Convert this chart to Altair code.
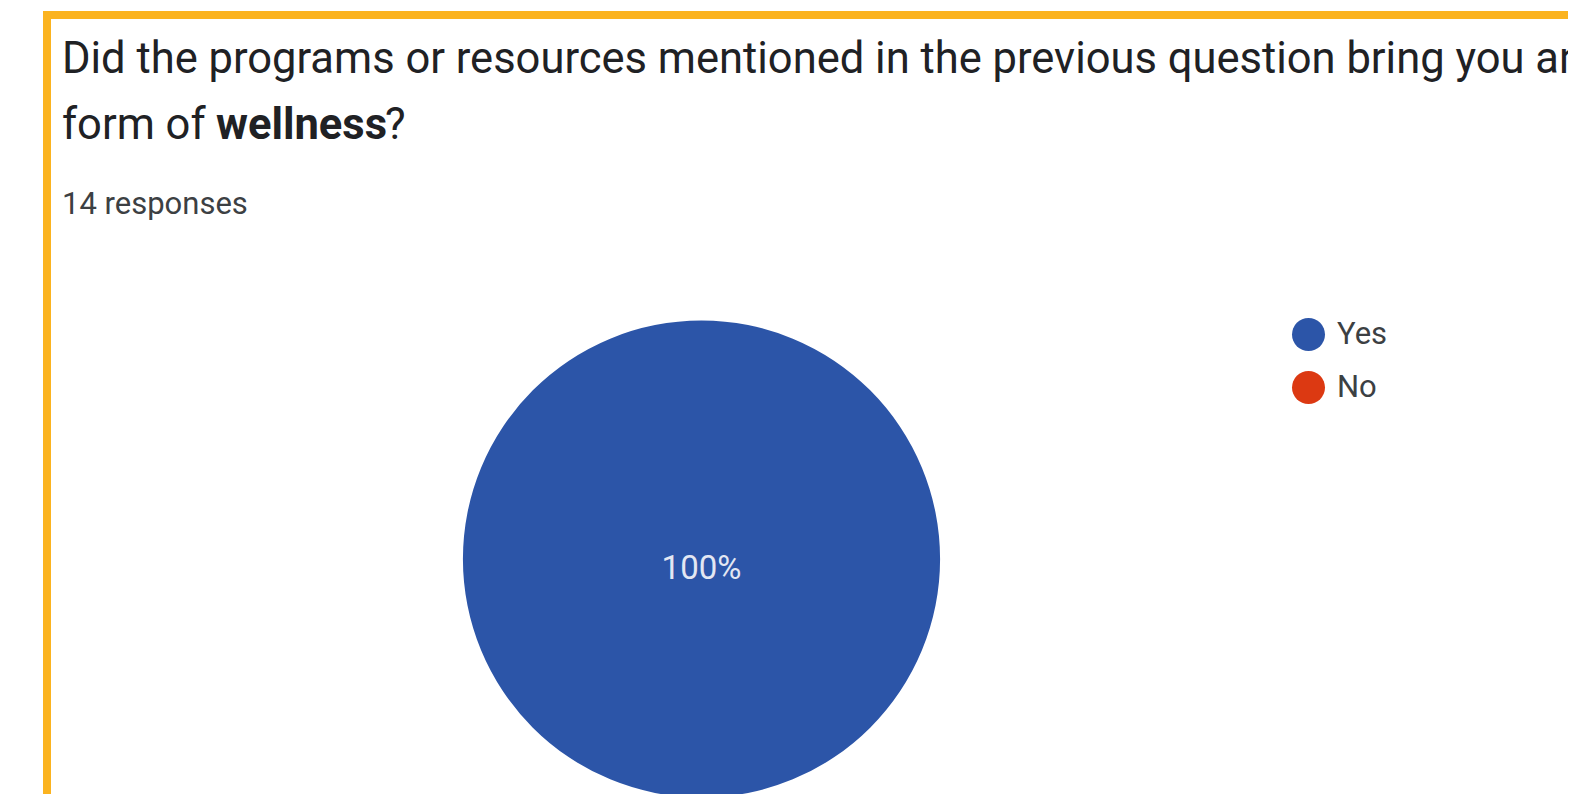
import altair as alt
import pandas as pd

# ---- data ----
answers = ["Yes", "No"]
counts = [14, 0]
colors = ["#2C55A8", "#DC3912"]

title_line1 = "Did the programs or resources mentioned in the previous question bring you any"
title_line2_a = "form of"
title_line2_b = "wellness"
title_line2_c = "?"
subtitle = "14 responses"

FONT = "Roboto"
W, H = 1560, 786

pie_df = pd.DataFrame({"answer": answers, "count": counts})

def one(text):
    return pd.DataFrame({"t": [text]})

border_color = "#FBB31F"

top_border = alt.Chart(one("")).mark_rule(color=border_color, strokeWidth=8).encode(
    x=alt.value(35), x2=alt.value(W), y=alt.value(7)
)
left_border = alt.Chart(one("")).mark_rule(color=border_color, strokeWidth=8).encode(
    x=alt.value(39), y=alt.value(3), y2=alt.value(H)
)

def text_layer(s, x, y, size, weight="normal", color="#202124"):
    return alt.Chart(one(s)).mark_text(
        font=FONT, fontSize=size, fontWeight=weight, color=color,
        align="left", baseline="alphabetic"
    ).encode(text="t:N", x=alt.value(x), y=alt.value(y))

t1 = text_layer(title_line1, 54, 65, 43.5)
t2a = text_layer(title_line2_a, 54, 131, 43.5)
t2b = text_layer(title_line2_b, 208, 131, 43.5, weight="bold")
t2c = text_layer(title_line2_c, 377, 131, 43.5)
t3 = text_layer(subtitle, 54, 206, 31, color="#3c4043")

CX, CY, R = 693.5, 551, 238.5

pie = alt.Chart(pie_df).mark_arc(outerRadius=R, stroke=None).encode(
    theta=alt.Theta("count:Q", stack=True),
    color=alt.Color(
        "answer:N",
        scale=alt.Scale(domain=answers, range=colors),
        sort=answers,
        legend=alt.Legend(
            title=None, orient="none", legendX=1284, legendY=310,
            symbolType="circle", symbolSize=1089, symbolStrokeWidth=0,
            symbolOpacity=1, labelFont=FONT, labelFontSize=31,
            labelColor="#3c4043", labelOffset=12, rowPadding=20, padding=0,
        ),
    ),
    order=alt.Order("answer:N", sort="descending"),
    x=alt.value(CX), y=alt.value(CY),
)

pct = alt.Chart(pie_df).transform_joinaggregate(
    total="sum(count)"
).transform_filter(
    alt.datum.count > 0
).transform_calculate(
    label="format(datum.count / datum.total * 100, '.0f') + '%'"
).mark_text(
    font=FONT, fontSize=33, color="#E3E7F3", align="center", baseline="middle"
).encode(text="label:N", x=alt.value(CX), y=alt.value(CY + 10))

chart = alt.layer(
    pie, pct, top_border, left_border, t1, t2a, t2b, t2c, t3
).properties(
    width=W, height=H, background="white", padding=0,
    autosize=alt.AutoSizeParams(type="none"),
).configure_view(stroke=None)

chart.save("out.html", embed_options={"renderer": "svg", "actions": False})
